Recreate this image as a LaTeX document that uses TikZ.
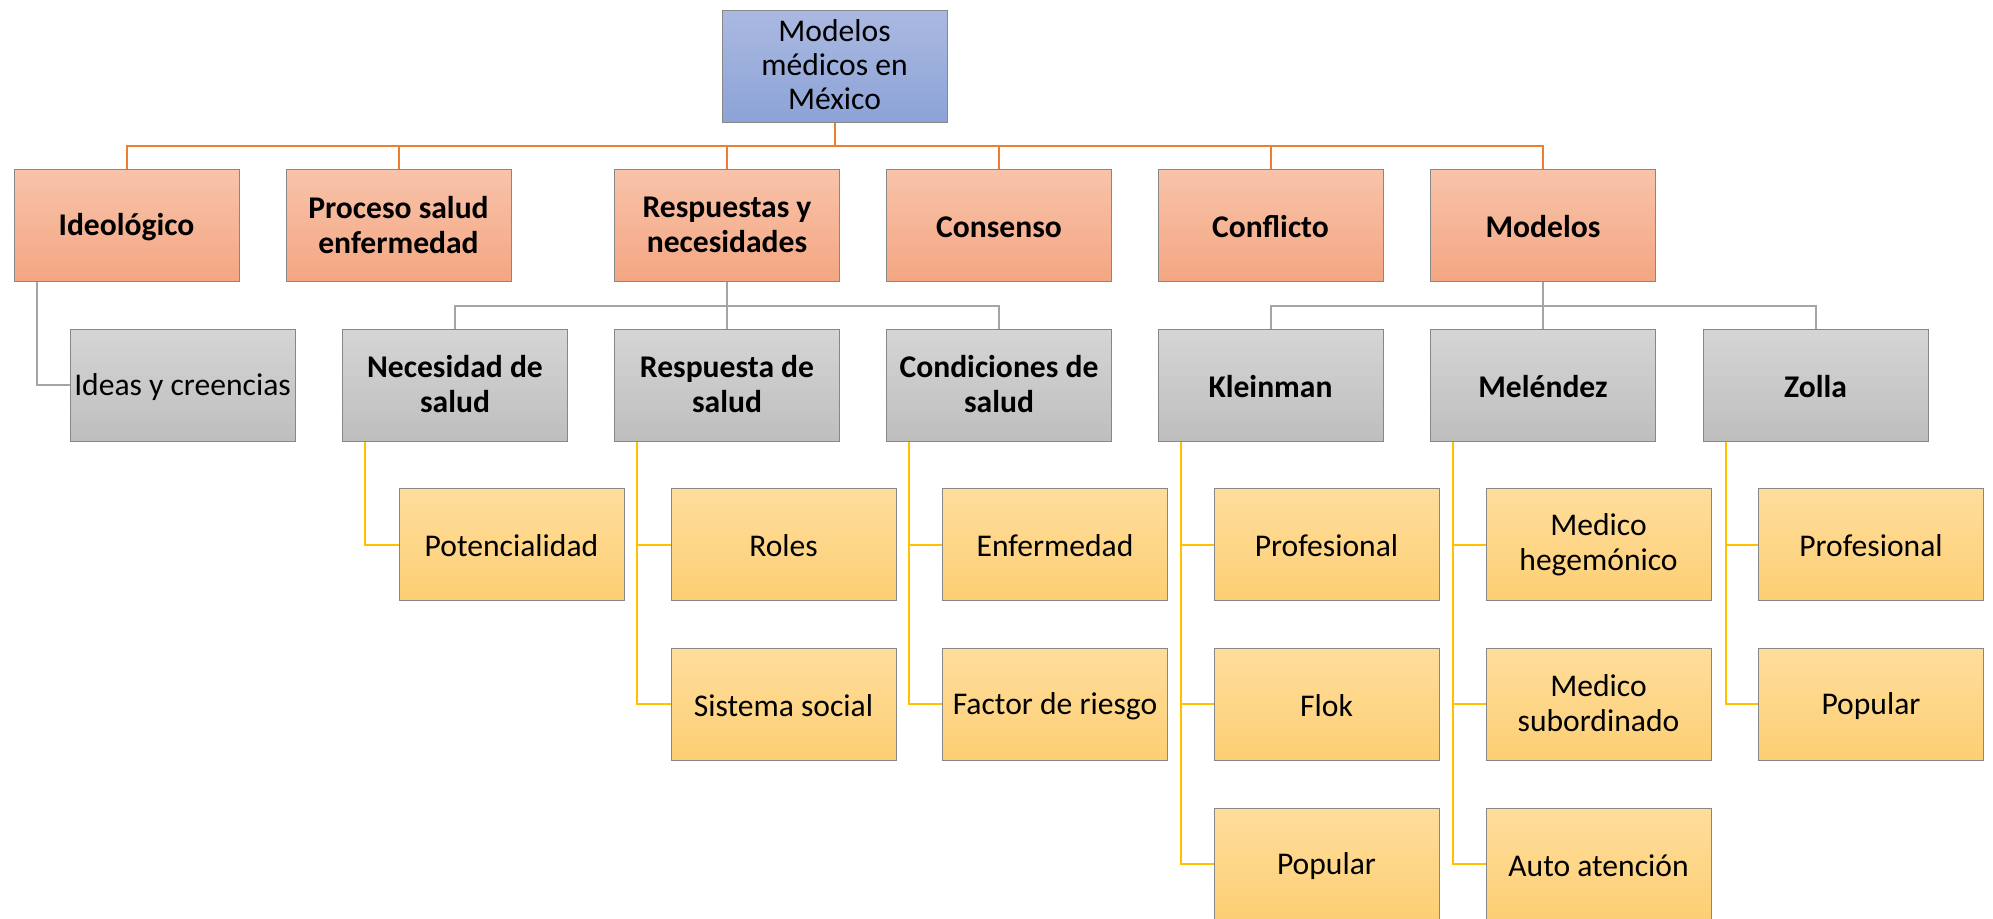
\documentclass[tikz,border=0pt]{standalone}
\usepackage{fontspec}
\setmainfont{Carlito}
\usetikzlibrary{positioning}

\definecolor{rootTop}{RGB}{171,185,225}
\definecolor{rootBot}{RGB}{140,163,215}
\definecolor{topTop}{RGB}{248,195,170}
\definecolor{topBot}{RGB}{244,166,130}
\definecolor{midTop}{RGB}{213,213,213}
\definecolor{midBot}{RGB}{190,190,190}
\definecolor{leafTop}{RGB}{254,221,156}
\definecolor{leafBot}{RGB}{253,207,116}
\definecolor{boxEdge}{RGB}{135,135,135}
\definecolor{lineOrange}{RGB}{237,125,49}
\definecolor{lineGray}{RGB}{165,165,165}
\definecolor{lineYellow}{RGB}{255,192,0}

\newcommand{\lblfont}{\fontsize{15.8}{17.5}\selectfont}
\newcommand{\boxstrut}{\rule[-1pt]{0pt}{14pt}}

\tikzset{
  boxbase/.style={draw=boxEdge, line width=0.5pt, minimum width=112.5pt,
    minimum height=56pt, align=center, inner sep=1pt, font=\lblfont,
    execute at begin node=\boxstrut, execute at end node=\boxstrut},
  rootbox/.style={boxbase, top color=rootTop, bottom color=rootBot,
    font=\fontsize{15.8}{17}\selectfont},
  topbox/.style={boxbase, top color=topTop, bottom color=topBot, font=\lblfont\bfseries},
  midbox/.style={boxbase, top color=midTop, bottom color=midBot, font=\lblfont\bfseries},
  leafbox/.style={boxbase, top color=leafTop, bottom color=leafBot},
  orangeline/.style={draw=lineOrange, line width=1pt},
  grayline/.style={draw=lineGray, line width=1pt},
  yelline/.style={draw=lineYellow, line width=1pt}
}

\begin{document}
\begin{tikzpicture}[x=0.5pt,y=-0.5pt]
\useasboundingbox (0,0) rectangle (1993,918);

% root and first level
\node[rootbox] (root) at (834.5,66) {Modelos\\médicos en\\México};
\node[topbox] (ideo) at (126.5,225.5) {Ideológico};
\node[topbox] (proc) at (398.5,225.5) {Proceso salud\\enfermedad};
\node[topbox] (resp) at (727,225.5) {Respuestas y\\necesidades};
\node[topbox] (cons) at (999,225.5) {Consenso};
\node[topbox] (conf) at (1270.5,225.5) {Conflicto};
\node[topbox] (mods) at (1543,225.5) {Modelos};

% second level
\node[midbox, font=\lblfont] (ideas) at (182.5,385) {Ideas y creencias};
\node[midbox] (nec) at (455,385) {Necesidad de\\salud};
\node[midbox] (resr) at (727,385) {Respuesta de\\salud};
\node[midbox] (cond) at (999,385) {Condiciones de\\salud};
\node[midbox] (klein) at (1270.5,385) {Kleinman};
\node[midbox] (mel) at (1543,385) {Meléndez};
\node[midbox] (zol) at (1815.5,385) {Zolla};

% third level
\node[leafbox] (pot) at (511.5,544.5) {Potencialidad};
\node[leafbox] (roles) at (783.5,544.5) {Roles};
\node[leafbox] (sis) at (783.5,704) {Sistema social};
\node[leafbox] (enf) at (1055,544.5) {Enfermedad};
\node[leafbox] (fac) at (1055,704) {Factor de riesgo};
\node[leafbox] (kpro) at (1326.5,544.5) {Profesional};
\node[leafbox] (kflok) at (1326.5,704) {Flok};
\node[leafbox] (kpop) at (1326.5,864) {Popular};
\node[leafbox] (mheg) at (1598.5,544.5) {Medico\\hegemónico};
\node[leafbox] (msub) at (1598.5,704) {Medico\\subordinado};
\node[leafbox] (mauto) at (1598.5,864) {Auto atención};
\node[leafbox] (zpro) at (1871,544.5) {Profesional};
\node[leafbox] (zpop) at (1871,704) {Popular};

% connectors
\foreach \n in {ideo,proc,resp,cons,conf,mods}
  \draw[orangeline] (root.south) -- ++(0,23) -| (\n.north);
\foreach \n in {nec,resr,cond}
  \draw[grayline] (resp.south) -- ++(0,24) -| (\n.north);
\foreach \n in {klein,mel,zol}
  \draw[grayline] (mods.south) -- ++(0,24) -| (\n.north);
\draw[grayline] ([xshift=11.5pt]ideo.south west) |- (ideas.west);

\draw[yelline] ([xshift=11.5pt]nec.south west) |- (pot.west);
\foreach \c in {roles,sis}
  \draw[yelline] ([xshift=11.5pt]resr.south west) |- (\c.west);
\foreach \c in {enf,fac}
  \draw[yelline] ([xshift=11.5pt]cond.south west) |- (\c.west);
\foreach \c in {kpro,kflok,kpop}
  \draw[yelline] ([xshift=11.5pt]klein.south west) |- (\c.west);
\foreach \c in {mheg,msub,mauto}
  \draw[yelline] ([xshift=11.5pt]mel.south west) |- (\c.west);
\foreach \c in {zpro,zpop}
  \draw[yelline] ([xshift=11.5pt]zol.south west) |- (\c.west);

\end{tikzpicture}
\end{document}
